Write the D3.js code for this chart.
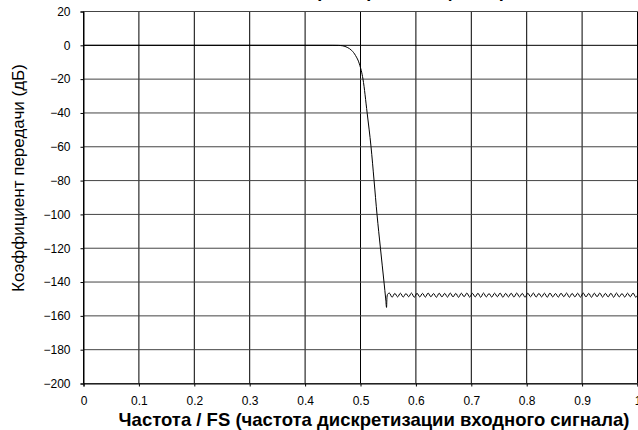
<!DOCTYPE html>
<html>
<head>
<meta charset="utf-8">
<script src="https://cdn.jsdelivr.net/npm/d3@7"></script>
<style>
  html, body { margin: 0; padding: 0; background: #fff; }
  svg { display: block; font-family: "Liberation Sans", Arial, sans-serif; }
</style>
</head>
<body>
<svg id="chart" width="638" height="430"></svg>
<script>
// Filter magnitude response: gain (dB) versus normalised frequency f/FS
const titleText = "Частотная характеристика фильтра";
const xTitle = "Частота / FS (частота дискретизации входного сигнала)";
const yTitle = "Коэффициент передачи (дБ)";

const xTicks = [0, 0.1, 0.2, 0.3, 0.4, 0.5, 0.6, 0.7, 0.8, 0.9, 1];
const yTicks = [20, 0, -20, -40, -60, -80, -100, -120, -140, -160, -180, -200];

// Passband and transition band
const passband = [
  [0, 0], [0.45, 0], [0.46, -0.05], [0.468, -0.3], [0.476, -1.2], [0.484, -3],
  [0.491, -6], [0.498, -11], [0.5045, -20], [0.512, -40], [0.519, -60],
  [0.5245, -80], [0.5298, -100], [0.536, -120], [0.5424, -140], [0.5455, -150],
  [0.547, -155], [0.5478, -149], [0.549, -147.2]
];

// Stopband ripple (peaks and troughs)
const stopband = [
  [0.552,-146.5],[0.557,-149.0],[0.562,-146.7],[0.567,-148.8],[0.572,-146.6],[0.577,-148.9],[0.582,-146.8],[0.587,-148.7],[0.592,-146.5],[0.597,-149.0],
  [0.602,-146.6],[0.607,-148.8],[0.612,-146.7],[0.617,-148.9],[0.622,-146.5],[0.627,-148.7],[0.632,-146.8],[0.637,-149.0],[0.642,-146.6],[0.647,-148.8],
  [0.652,-146.7],[0.657,-148.9],[0.662,-146.5],[0.667,-148.8],[0.672,-146.7],[0.677,-149.0],[0.682,-146.6],[0.687,-148.7],[0.692,-146.5],[0.697,-148.9],
  [0.702,-146.7],[0.707,-148.8],[0.712,-146.6],[0.717,-149.0],[0.722,-146.5],[0.727,-148.8],[0.732,-146.8],[0.737,-148.9],[0.742,-146.6],[0.747,-148.7],
  [0.752,-146.5],[0.757,-149.0],[0.762,-146.7],[0.767,-148.8],[0.772,-146.6],[0.777,-148.9],[0.782,-146.5],[0.787,-148.8],[0.792,-146.7],[0.797,-149.0],
  [0.802,-146.6],[0.807,-148.7],[0.812,-146.5],[0.817,-148.9],[0.822,-146.7],[0.827,-148.8],[0.832,-146.6],[0.837,-149.0],[0.842,-146.5],[0.847,-148.8],
  [0.852,-146.8],[0.857,-148.9],[0.862,-146.6],[0.867,-148.7],[0.872,-146.5],[0.877,-149.0],[0.882,-146.7],[0.887,-148.8],[0.892,-146.6],[0.897,-148.9],
  [0.902,-146.5],[0.907,-148.8],[0.912,-146.7],[0.917,-149.0],[0.922,-146.6],[0.927,-148.7],[0.932,-146.5],[0.937,-148.9],[0.942,-146.7],[0.947,-148.8],
  [0.952,-146.6],[0.957,-149.0],[0.962,-146.5],[0.967,-148.8],[0.972,-146.8],[0.977,-148.9],[0.982,-146.6],[0.987,-148.7],[0.992,-146.5],[0.997,-149.0],
  [1.0,-147.8]
];

const svg = d3.select("#chart");
const plotLeft = 83.5, plotRight = 637.5, plotTop = 11.5, plotBottom = 383.5;

const x = d3.scaleLinear().domain([0, 1]).range([plotLeft, plotRight]);
const y = d3.scaleLinear().domain([-200, 20]).range([plotBottom, plotTop]);

// Grid
const grid = svg.append("g").attr("stroke", "#000").attr("stroke-width", 1);
grid.selectAll("line.v").data(xTicks).join("line")
  .attr("class", "v")
  .attr("x1", d => x(d)).attr("x2", d => x(d))
  .attr("y1", plotTop).attr("y2", plotBottom);
grid.selectAll("line.h").data(yTicks).join("line")
  .attr("class", "h")
  .attr("x1", plotLeft).attr("x2", plotRight)
  .attr("y1", d => y(d)).attr("y2", d => y(d))
  .attr("stroke", d => d === 0 ? "#000" : "#444");

// Axes
const yAxis = d3.axisLeft(y).tickValues(yTicks).tickSize(3).tickPadding(10).tickFormat(d3.format("d"));
const xAxis = d3.axisBottom(x).tickValues(xTicks).tickSize(3).tickPadding(10).tickFormat(d => d === 0 || d === 1 ? String(d) : d.toFixed(1));

const gy = svg.append("g").attr("transform", `translate(${plotLeft},0)`).call(yAxis);
const gx = svg.append("g").attr("transform", `translate(0,${plotBottom})`).call(xAxis);
[gx, gy].forEach(g => {
  g.select(".domain").attr("stroke", "#000");
  g.selectAll(".tick line").attr("stroke", "#000");
  g.selectAll("text").attr("fill", "#000").attr("font-size", 12)
    .attr("font-family", "Liberation Sans, Arial, sans-serif");
});

// Response curve
const line = d3.line()
  .x(d => x(d[0]))
  .y(d => y(d[1]))
  .curve(d3.curveMonotoneX);

svg.append("path")
  .datum(passband.concat(stopband))
  .attr("fill", "none")
  .attr("stroke", "#000")
  .attr("stroke-width", 1)
  .attr("d", line);

// Titles
svg.append("text")
  .attr("x", 360).attr("y", -3)
  .attr("text-anchor", "middle")
  .attr("font-size", 18).attr("font-weight", "bold")
  .text(titleText);

svg.append("text")
  .attr("x", 374).attr("y", 426)
  .attr("text-anchor", "middle")
  .attr("font-size", 18.5).attr("font-weight", "bold")
  .text(xTitle);

svg.append("text")
  .attr("transform", "translate(24,178) rotate(-90)")
  .attr("text-anchor", "middle")
  .attr("font-size", 17)
  .text(yTitle);
</script>
</body>
</html>
